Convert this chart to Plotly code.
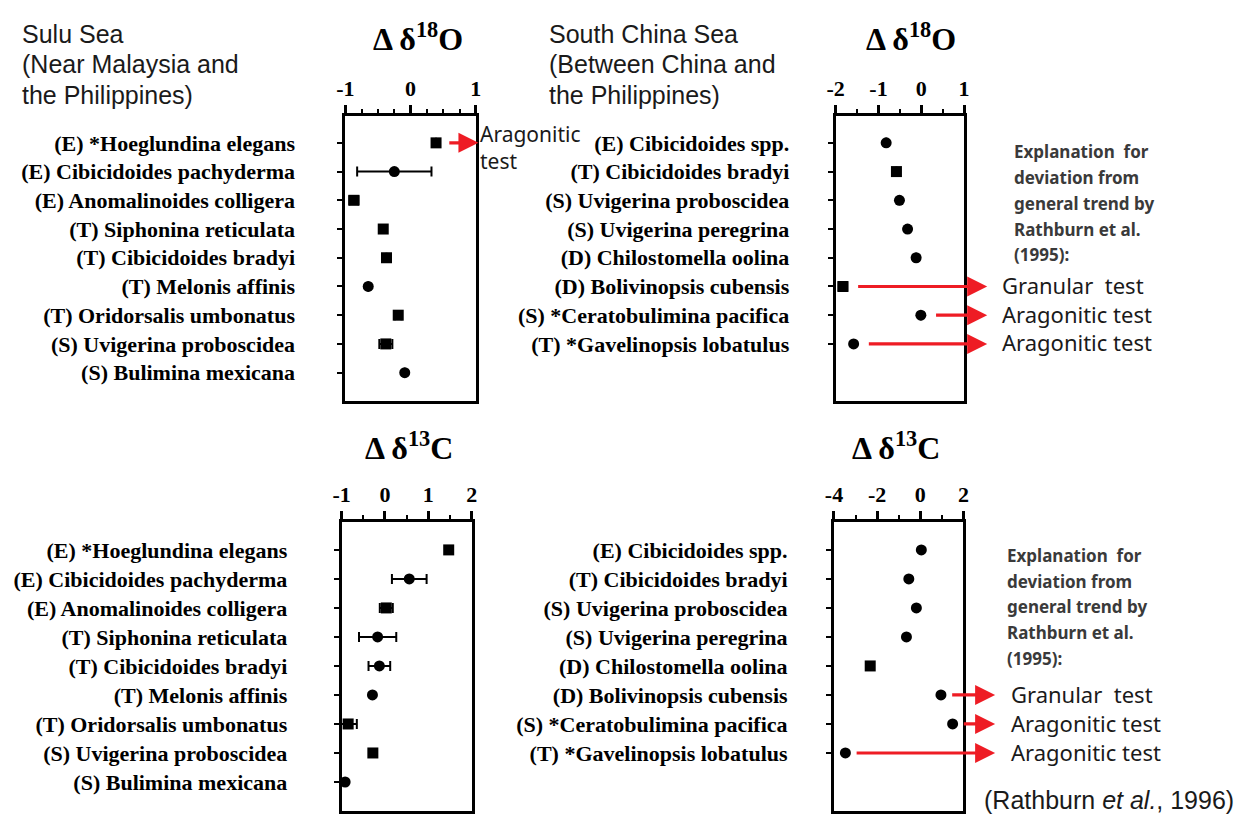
import plotly.graph_objects as go

# ---------------- data ----------------
sulu_species = [
    "(E) *Hoeglundina elegans",
    "(E) Cibicidoides pachyderma",
    "(E) Anomalinoides colligera",
    "(T) Siphonina reticulata",
    "(T) Cibicidoides bradyi",
    "(T) Melonis affinis",
    "(T) Oridorsalis umbonatus",
    "(S) Uvigerina proboscidea",
    "(S) Bulimina mexicana",
]
scs_species = [
    "(E) Cibicidoides spp.",
    "(T) Cibicidoides bradyi",
    "(S) Uvigerina proboscidea",
    "(S) Uvigerina peregrina",
    "(D) Chilostomella oolina",
    "(D) Bolivinopsis cubensis",
    "(S) *Ceratobulimina pacifica",
    "(T) *Gavelinopsis lobatulus",
]

sulu_d18o = [0.39, -0.25, -0.87, -0.42, -0.37, -0.65, -0.19, -0.38, -0.09]
sulu_d18o_err = [0.0, 0.57, 0.07, 0.0, 0.0, 0.0, 0.05, 0.1, 0.0]
sulu_d13c = [1.47, 0.56, 0.03, -0.17, -0.13, -0.29, -0.85, -0.28, -0.92]
sulu_d13c_err = [0.0, 0.4, 0.15, 0.43, 0.25, 0.0, 0.2, 0.0, 0.0]

scs_d18o = [-0.82, -0.58, -0.51, -0.32, -0.12, -1.83, -0.01, -1.58]
scs_d18o_err = [0.0, 0.0, 0.0, 0.0, 0.0, 0.1, 0.0, 0.0]
scs_d13c = [0.05, -0.53, -0.18, -0.64, -2.32, 0.96, 1.5, -3.47]
scs_d13c_err = [0.0, 0.0, 0.0, 0.0, 0.0, 0.0, 0.0, 0.0]

d18o_ticks = {"sulu": [-1, 0, 1], "scs": [-2, -1, 0, 1]}
d13c_ticks = {"sulu": [-1, 0, 1, 2], "scs": [-4, -2, 0, 2]}

# species whose tests explain the deviation (index into scs_species)
scs_flagged = [(5, "Granular\u00a0\u00a0test"), (6, "Aragonitic test"), (7, "Aragonitic test")]
sulu_flagged = [(0, ["Aragonitic", "test"])]

sulu_heading = ["Sulu Sea", "(Near Malaysia and", "the Philippines)"]
scs_heading = ["South China Sea", "(Between China and", "the Philippines)"]
explanation = ["Explanation\u00a0\u00a0for", "deviation from", "general trend by",
               "Rathburn et al.", "(1995):"]

# ---------------- styling ----------------
W, H = 1249, 814
SERIF = "Liberation Serif"
SANS = "Liberation Sans"
CAL = "Noto Sans"


def px_x(p):
    return p / W


def px_y(p):
    return 1 - p / H


sym_sulu_o = ["square", "circle", "square", "square", "square", "circle", "square", "square", "circle"]
sym_scs_o = ["circle", "square", "circle", "circle", "circle", "square", "circle", "circle"]
sym_sulu_c = ["square", "circle", "square", "circle", "circle", "circle", "square", "square", "circle"]
sym_scs_c = ["circle", "circle", "circle", "circle", "square", "circle", "circle", "circle"]

fig = go.Figure()

panels = [
    # id, values, errors, symbols, labels, x-range, ticks, minor dtick,
    # x-domain px, y-domain px, y-range, label standoff
    ("", sulu_d18o, sulu_d18o_err, sym_sulu_o, sulu_species, [-1, 1], d18o_ticks["sulu"], 0.25,
     (340.5, 472.5), (116, 401), [8.97, -0.94], 38),
    ("2", scs_d18o, scs_d18o_err, sym_scs_o, scs_species, [-2, 1], d18o_ticks["scs"], 0.5,
     (836.7, 966.7), (116, 401), [8.97, -0.94], 34),
    ("3", sulu_d13c, sulu_d13c_err, sym_sulu_c, sulu_species, [-1, 2], d13c_ticks["sulu"], 0.5,
     (336.7, 468.3), (522.7, 812), [9.0, -0.96], 42),
    ("4", scs_d13c, scs_d13c_err, sym_scs_c, scs_species, [-4, 2], d13c_ticks["scs"], 1,
     (835, 966), (522.7, 812), [9.0, -0.96], 34),
]

layout = dict(
    width=W, height=H,
    margin=dict(l=0, r=0, t=0, b=0),
    paper_bgcolor="white", plot_bgcolor="white",
    showlegend=False,
    annotations=[],
)

for pid, vals, errs, syms, labels, xr, ticks, minor, xd, yd, yr, standoff in panels:
    rows = list(range(len(vals)))
    fig.add_trace(go.Scatter(
        x=vals, y=rows, mode="markers",
        xaxis="x" + pid, yaxis="y" + pid,
        marker=dict(symbol=syms, size=11, color="black", line=dict(width=0)),
        error_x=dict(type="data", array=errs, color="black", thickness=2, width=5),
        cliponaxis=False,
    ))
    layout["xaxis" + pid] = dict(
        domain=[px_x(xd[0]), px_x(xd[1])], range=xr, anchor="y" + pid, side="top",
        tickvals=ticks, ticktext=[str(t) for t in ticks],
        ticks="outside", ticklen=8, tickwidth=2.5, tickcolor="black",
        minor=dict(dtick=minor, ticks="outside", ticklen=4, tickwidth=2, tickcolor="black"),
        tickfont=dict(family=SERIF, size=22, color="black", weight="bold"),
        showline=True, linewidth=3, linecolor="black", mirror=True,
        showgrid=False, zeroline=False, fixedrange=True,
    )
    layout["yaxis" + pid] = dict(
        domain=[px_y(yd[1]), px_y(yd[0])], range=yr, anchor="x" + pid,
        tickvals=rows, ticktext=labels,
        ticks="outside", ticklen=5, tickwidth=2, tickcolor="black",
        tickfont=dict(family=SERIF, size=22, color="black", weight="bold"),
        ticklabelstandoff=standoff,
        showline=True, linewidth=3, linecolor="black", mirror=True,
        showgrid=False, zeroline=False, fixedrange=True,
    )

ann = layout["annotations"]

# panel titles
for text, cx, cy in [("\u0394 \u03b4<sup>18</sup>O", 414, 37), ("\u0394 \u03b4<sup>18</sup>O", 913, 37),
                     ("\u0394 \u03b4<sup>13</sup>C", 405, 447), ("\u0394 \u03b4<sup>13</sup>C", 898, 447)]:
    ann.append(dict(text=text, xref="paper", yref="paper", x=px_x(cx), y=px_y(cy),
                    xanchor="center", yanchor="middle", showarrow=False,
                    font=dict(family=SERIF, size=32, color="black", weight="bold")))


def add_lines(lines, lx, top, step, font):
    for i, line in enumerate(lines):
        ann.append(dict(text=line, xref="paper", yref="paper", x=px_x(lx), y=px_y(top + i * step),
                        xanchor="left", yanchor="middle", showarrow=False, font=font))


# region headings
heading_font = dict(family=SANS, size=25, color="#1a1a1a")
add_lines(sulu_heading, 11, 34, 30.5, heading_font)
add_lines(scs_heading, 545, 34, 30.5, heading_font)

# explanation blocks
expl_font = dict(family=CAL, size=17, color="#3a3a3a", weight="bold")
add_lines(explanation, 1015, 152, 25.8, expl_font)
add_lines(explanation, 1008, 556, 25.8, expl_font)

RED = "#ee1c24"


def add_arrow(pid, val, row, tip, gap):
    ann.append(dict(text="", xref="x" + pid, yref="y" + pid, x=tip, y=row,
                    axref="x" + pid, ayref="y" + pid, ax=val + gap, ay=row,
                    showarrow=True, arrowhead=2, arrowsize=1.25, arrowwidth=3.2,
                    arrowcolor=RED))


label_font = dict(family=CAL, size=22, color="#1a1a1a")

# Sulu Sea d18O annotation
for idx, lines in sulu_flagged:
    add_arrow("", sulu_d18o[idx], idx, 1.04, 0.18)
    add_lines(lines, 475, 134, 27, dict(family=CAL, size=21, color="#1a1a1a"))

# South China Sea annotations
for idx, label in scs_flagged:
    add_arrow("2", scs_d18o[idx], idx, 1.54, 0.32)
    ann.append(dict(text=label, xref="paper", yref="y2", x=px_x(1003), y=idx - 0.05,
                    xanchor="left", yanchor="middle", showarrow=False, font=label_font))
    add_arrow("4", scs_d13c[idx], idx, 3.47, 0.45)
    ann.append(dict(text=label, xref="paper", yref="y4", x=px_x(1012), y=idx - 0.05,
                    xanchor="left", yanchor="middle", showarrow=False, font=label_font))

# source
ann.append(dict(text="(Rathburn <i>et al.</i>, 1996)", xref="paper", yref="paper",
                x=px_x(985), y=px_y(801), xanchor="left", yanchor="middle", showarrow=False,
                font=dict(family=SANS, size=25, color="#1a1a1a")))

fig.update_layout(**layout)
fig.write_html("out.html", config={"displayModeBar": False})
